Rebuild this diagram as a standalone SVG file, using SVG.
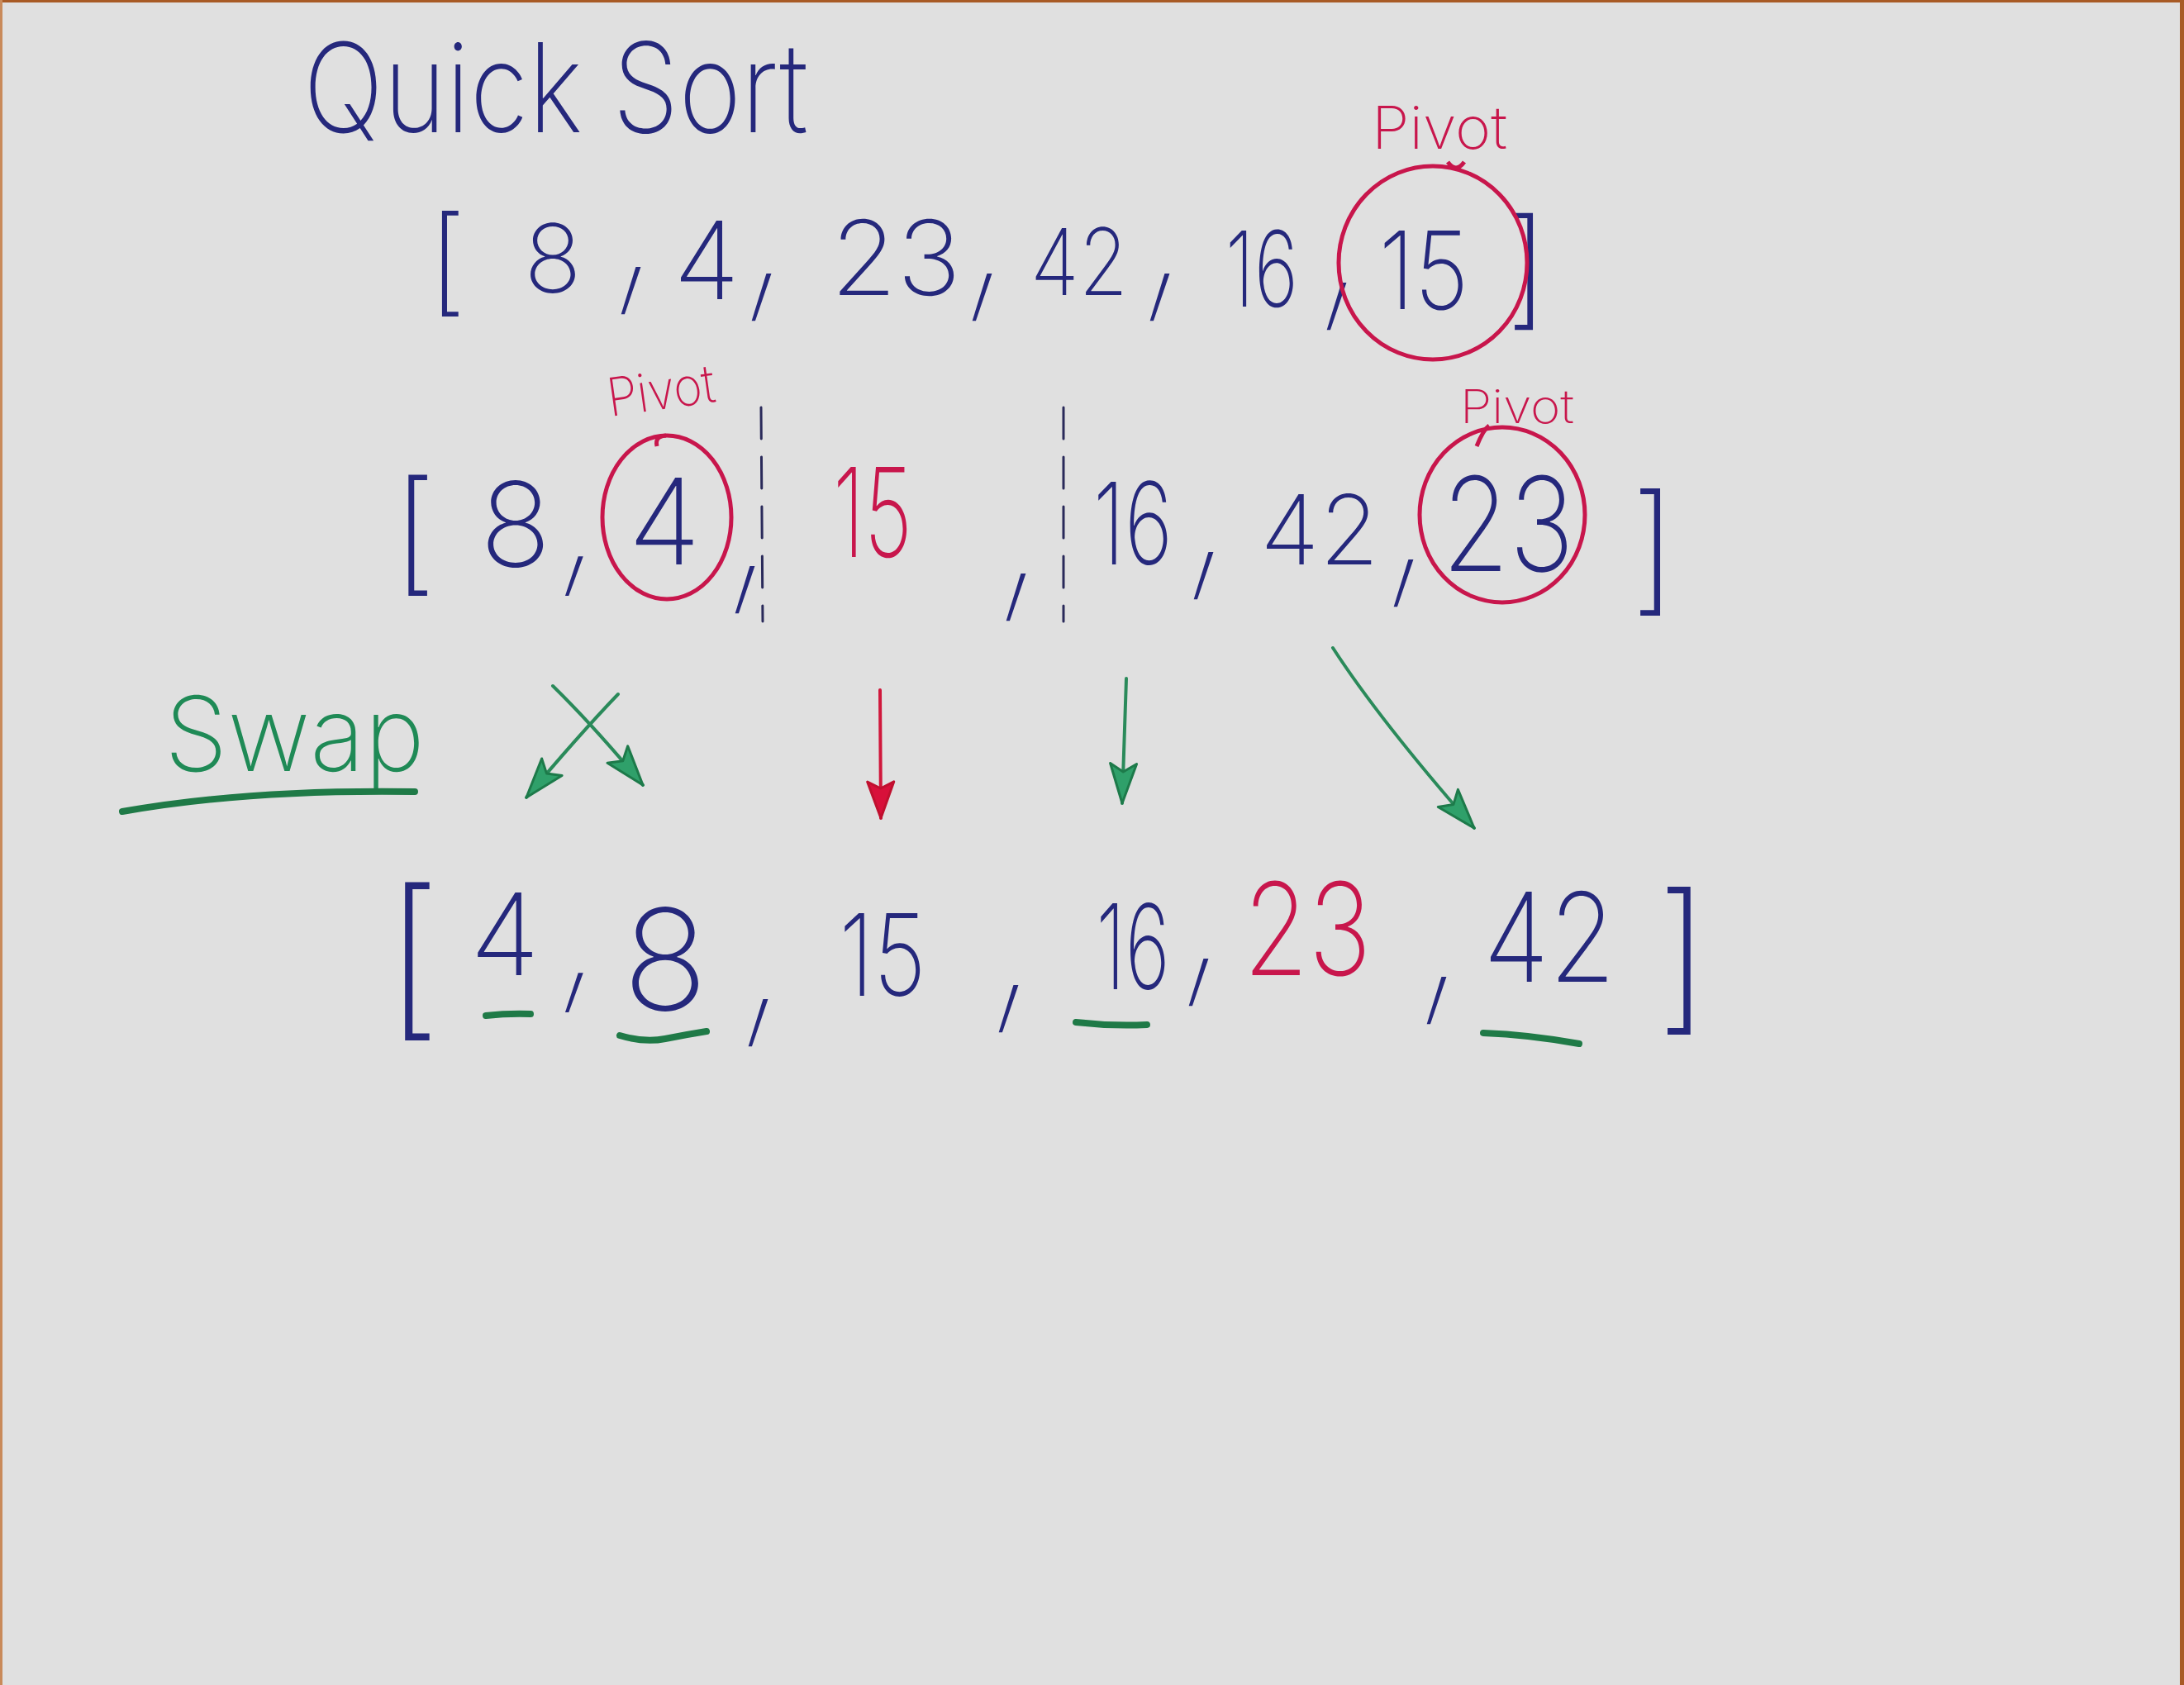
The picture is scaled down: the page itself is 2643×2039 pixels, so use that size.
<svg xmlns="http://www.w3.org/2000/svg" width="2643" height="2039" viewBox="0 0 2643 2039">
<style>
text{font-family:Inter,"Open Sans","Liberation Sans",sans-serif;font-weight:200;}
.b{fill:#25287c;}
.r{fill:#c8164c;}
.g{fill:#1f8a56;}
.br{fill:#25287c;font-weight:150;}
.cm{fill:#25287c;font-size:100px;text-anchor:middle;}
.n{text-anchor:middle;}
.ring{fill:none;stroke:#c8164c;stroke-width:5;}
.dash{fill:none;stroke:#2a2a5a;stroke-width:3;stroke-dasharray:38 22;stroke-linecap:round;}
.ul{fill:none;stroke:#1f7a47;stroke-width:8;stroke-linecap:round;}
.ag{fill:none;stroke:#2a8a5a;stroke-width:4;stroke-linecap:round;}
.ar{fill:none;stroke:#d0183c;stroke-width:4;stroke-linecap:round;}
</style>
<defs>
<marker id="hg" markerUnits="userSpaceOnUse" markerWidth="60" markerHeight="50" refX="50" refY="20" orient="auto">
<path d="M2,4 L50,20 L2,36 L12,20 Z" fill="#2fa06a" stroke="#1d7a4a" stroke-width="3" stroke-linejoin="round"/>
</marker>
<marker id="hr" markerUnits="userSpaceOnUse" markerWidth="60" markerHeight="50" refX="46" refY="18" orient="auto">
<path d="M2,2 L46,18 L2,34 L10,18 Z" fill="#d8103a" stroke="#c0102f" stroke-width="3" stroke-linejoin="round"/>
</marker>
</defs>
<rect x="0" y="0" width="2643" height="2039" fill="#e0e0e0"/>
<rect x="0" y="0" width="2643" height="3" fill="#a85a25"/>
<rect x="0" y="0" width="3" height="2039" fill="#c98a5a"/>
<rect x="2638" y="0" width="5" height="2039" fill="#a85a25"/>

<g id="title">
<text class="b" x="367" y="160" font-size="150" textLength="611" lengthAdjust="spacingAndGlyphs">Quick Sort</text>
</g>

<g id="row1">
<text class="br" x="518" y="364" font-size="141">[</text>
<text class="b n" x="669" y="354" font-size="115">8</text>
<text class="cm" transform="translate(767,343) skewX(-12) scale(1.2,2.4)">,</text>
<text class="b n" x="855" y="362" font-size="131">4</text>
<text class="cm" transform="translate(925,351) skewX(-12) scale(1.2,2.4)">,</text>
<text class="b n" x="1084" y="357" font-size="125" textLength="158" lengthAdjust="spacingAndGlyphs">23</text>
<text class="cm" transform="translate(1192,351) skewX(-12) scale(1.2,2.4)">,</text>
<text class="b n" x="1306" y="357" font-size="112" textLength="118" lengthAdjust="spacingAndGlyphs">42</text>
<text class="cm" transform="translate(1407,351) skewX(-12) scale(1.2,2.4)">,</text>
<text class="b n" x="1527" y="371" font-size="127" textLength="88" lengthAdjust="spacingAndGlyphs">16</text>
<text class="cm" transform="translate(1621,362) skewX(-12) scale(1.2,2.4)">,</text>
<text class="b n" x="1723" y="374" font-size="131" textLength="109" lengthAdjust="spacingAndGlyphs">15</text>
<text class="br" x="1822" y="378" font-size="156">]</text>
</g>

<g id="pivot1">
<ellipse class="ring" cx="1734" cy="318" rx="114" ry="117"/>
<path class="ring" d="M1752,196 Q1762,210 1772,196"/>
<text class="r n" x="1742" y="180" font-size="72" textLength="164" lengthAdjust="spacingAndGlyphs">Pivot</text>
</g>

<g id="row2">
<text class="br" x="475" y="699" font-size="161">[</text>
<text class="b n" x="624" y="686" font-size="142">8</text>
<text class="cm" transform="translate(698,690) skewX(-12) scale(1.2,2.0)">,</text>
<text class="cm" transform="translate(905,705) skewX(-12) scale(1.2,2.4)">,</text>
<text class="r n" x="1056" y="674" font-size="150" font-weight="400" textLength="96" lengthAdjust="spacingAndGlyphs">15</text>
<text class="cm" transform="translate(1233,714) skewX(-12) scale(1.2,2.4)">,</text>
<text class="b n" x="1371" y="683" font-size="138" textLength="96" lengthAdjust="spacingAndGlyphs">16</text>
<text class="cm" transform="translate(1460,688) skewX(-12) scale(1.2,2.4)">,</text>
<text class="b n" x="1597" y="683" font-size="117" textLength="144" lengthAdjust="spacingAndGlyphs">42</text>
<text class="cm" transform="translate(1702,697) skewX(-12) scale(1.2,2.4)">,</text>
<text class="br" x="1973" y="722" font-size="170">]</text>
</g>

<g id="pivot2">
<ellipse class="ring" cx="807" cy="626" rx="78" ry="99"/>
<path class="ring" d="M795,540 Q792,528 806,527"/>
<text class="b n" x="804" y="683" font-size="144">4</text>
<text class="r n" transform="translate(803,495) rotate(-8)" font-size="64" textLength="131" lengthAdjust="spacingAndGlyphs">Pivot</text>
</g>

<g id="pivot3">
<ellipse class="ring" cx="1818" cy="623" rx="100" ry="106"/>
<path class="ring" d="M1787,540 Q1795,520 1802,515"/>
<text class="b n" x="1825" y="691" font-size="158" textLength="160" lengthAdjust="spacingAndGlyphs">23</text>
<text class="r n" x="1836" y="512" font-size="56" textLength="138" lengthAdjust="spacingAndGlyphs">Pivot</text>
</g>

<g id="dividers">
<line class="dash" x1="921" y1="493" x2="923" y2="752"/>
<line class="dash" x1="1287" y1="493" x2="1287" y2="752"/>
</g>

<g id="swap">
<text class="g" x="199" y="933" font-size="125" textLength="315" lengthAdjust="spacingAndGlyphs">Swap</text>
<path class="ul" d="M148,982 Q300,955 502,958"/>
</g>

<g id="connectors">
<path class="ag" d="M748,840 Q700,890 637,965" marker-end="url(#hg)"/>
<path class="ag" d="M669,830 Q720,880 778,950" marker-end="url(#hg)"/>
<path class="ar" d="M1065,835 L1066,990" marker-end="url(#hr)"/>
<path class="ag" d="M1363,821 L1358,972" marker-end="url(#hg)"/>
<path class="ag" d="M1613,784 Q1670,872 1784,1002" marker-end="url(#hg)"/>
</g>

<g id="row3">
<text class="br" x="465" y="1230" font-size="210">[</text>
<text class="b n" x="611" y="1180" font-size="138">4</text>
<path class="ul" d="M588,1229 Q615,1226 642,1227"/>
<text class="cm" transform="translate(698,1194) skewX(-12) scale(1.2,2.0)">,</text>
<text class="b n" x="805" y="1222" font-size="170">8</text>
<path class="ul" d="M750,1253 Q780,1262 805,1257 T855,1248"/>
<text class="cm" transform="translate(921,1229) skewX(-12) scale(1.2,2.4)">,</text>
<text class="b n" x="1068" y="1205" font-size="138" textLength="105" lengthAdjust="spacingAndGlyphs">15</text>
<text class="cm" transform="translate(1224,1212) skewX(-12) scale(1.2,2.4)">,</text>
<text class="b n" x="1371" y="1197" font-size="143" textLength="89" lengthAdjust="spacingAndGlyphs">16</text>
<path class="ul" d="M1302,1237 Q1345,1242 1388,1240"/>
<text class="cm" transform="translate(1454,1180) skewX(-12) scale(1.2,2.4)">,</text>
<text class="r n" x="1582" y="1180" font-size="155" font-weight="400" textLength="155" lengthAdjust="spacingAndGlyphs">23</text>
<text class="cm" transform="translate(1742,1202) skewX(-12) scale(1.2,2.4)">,</text>
<text class="b n" x="1875" y="1188" font-size="150" textLength="160" lengthAdjust="spacingAndGlyphs">42</text>
<path class="ul" d="M1795,1250 Q1850,1252 1911,1263"/>
<text class="br" x="2004" y="1225" font-size="197">]</text>
</g>
</svg>
